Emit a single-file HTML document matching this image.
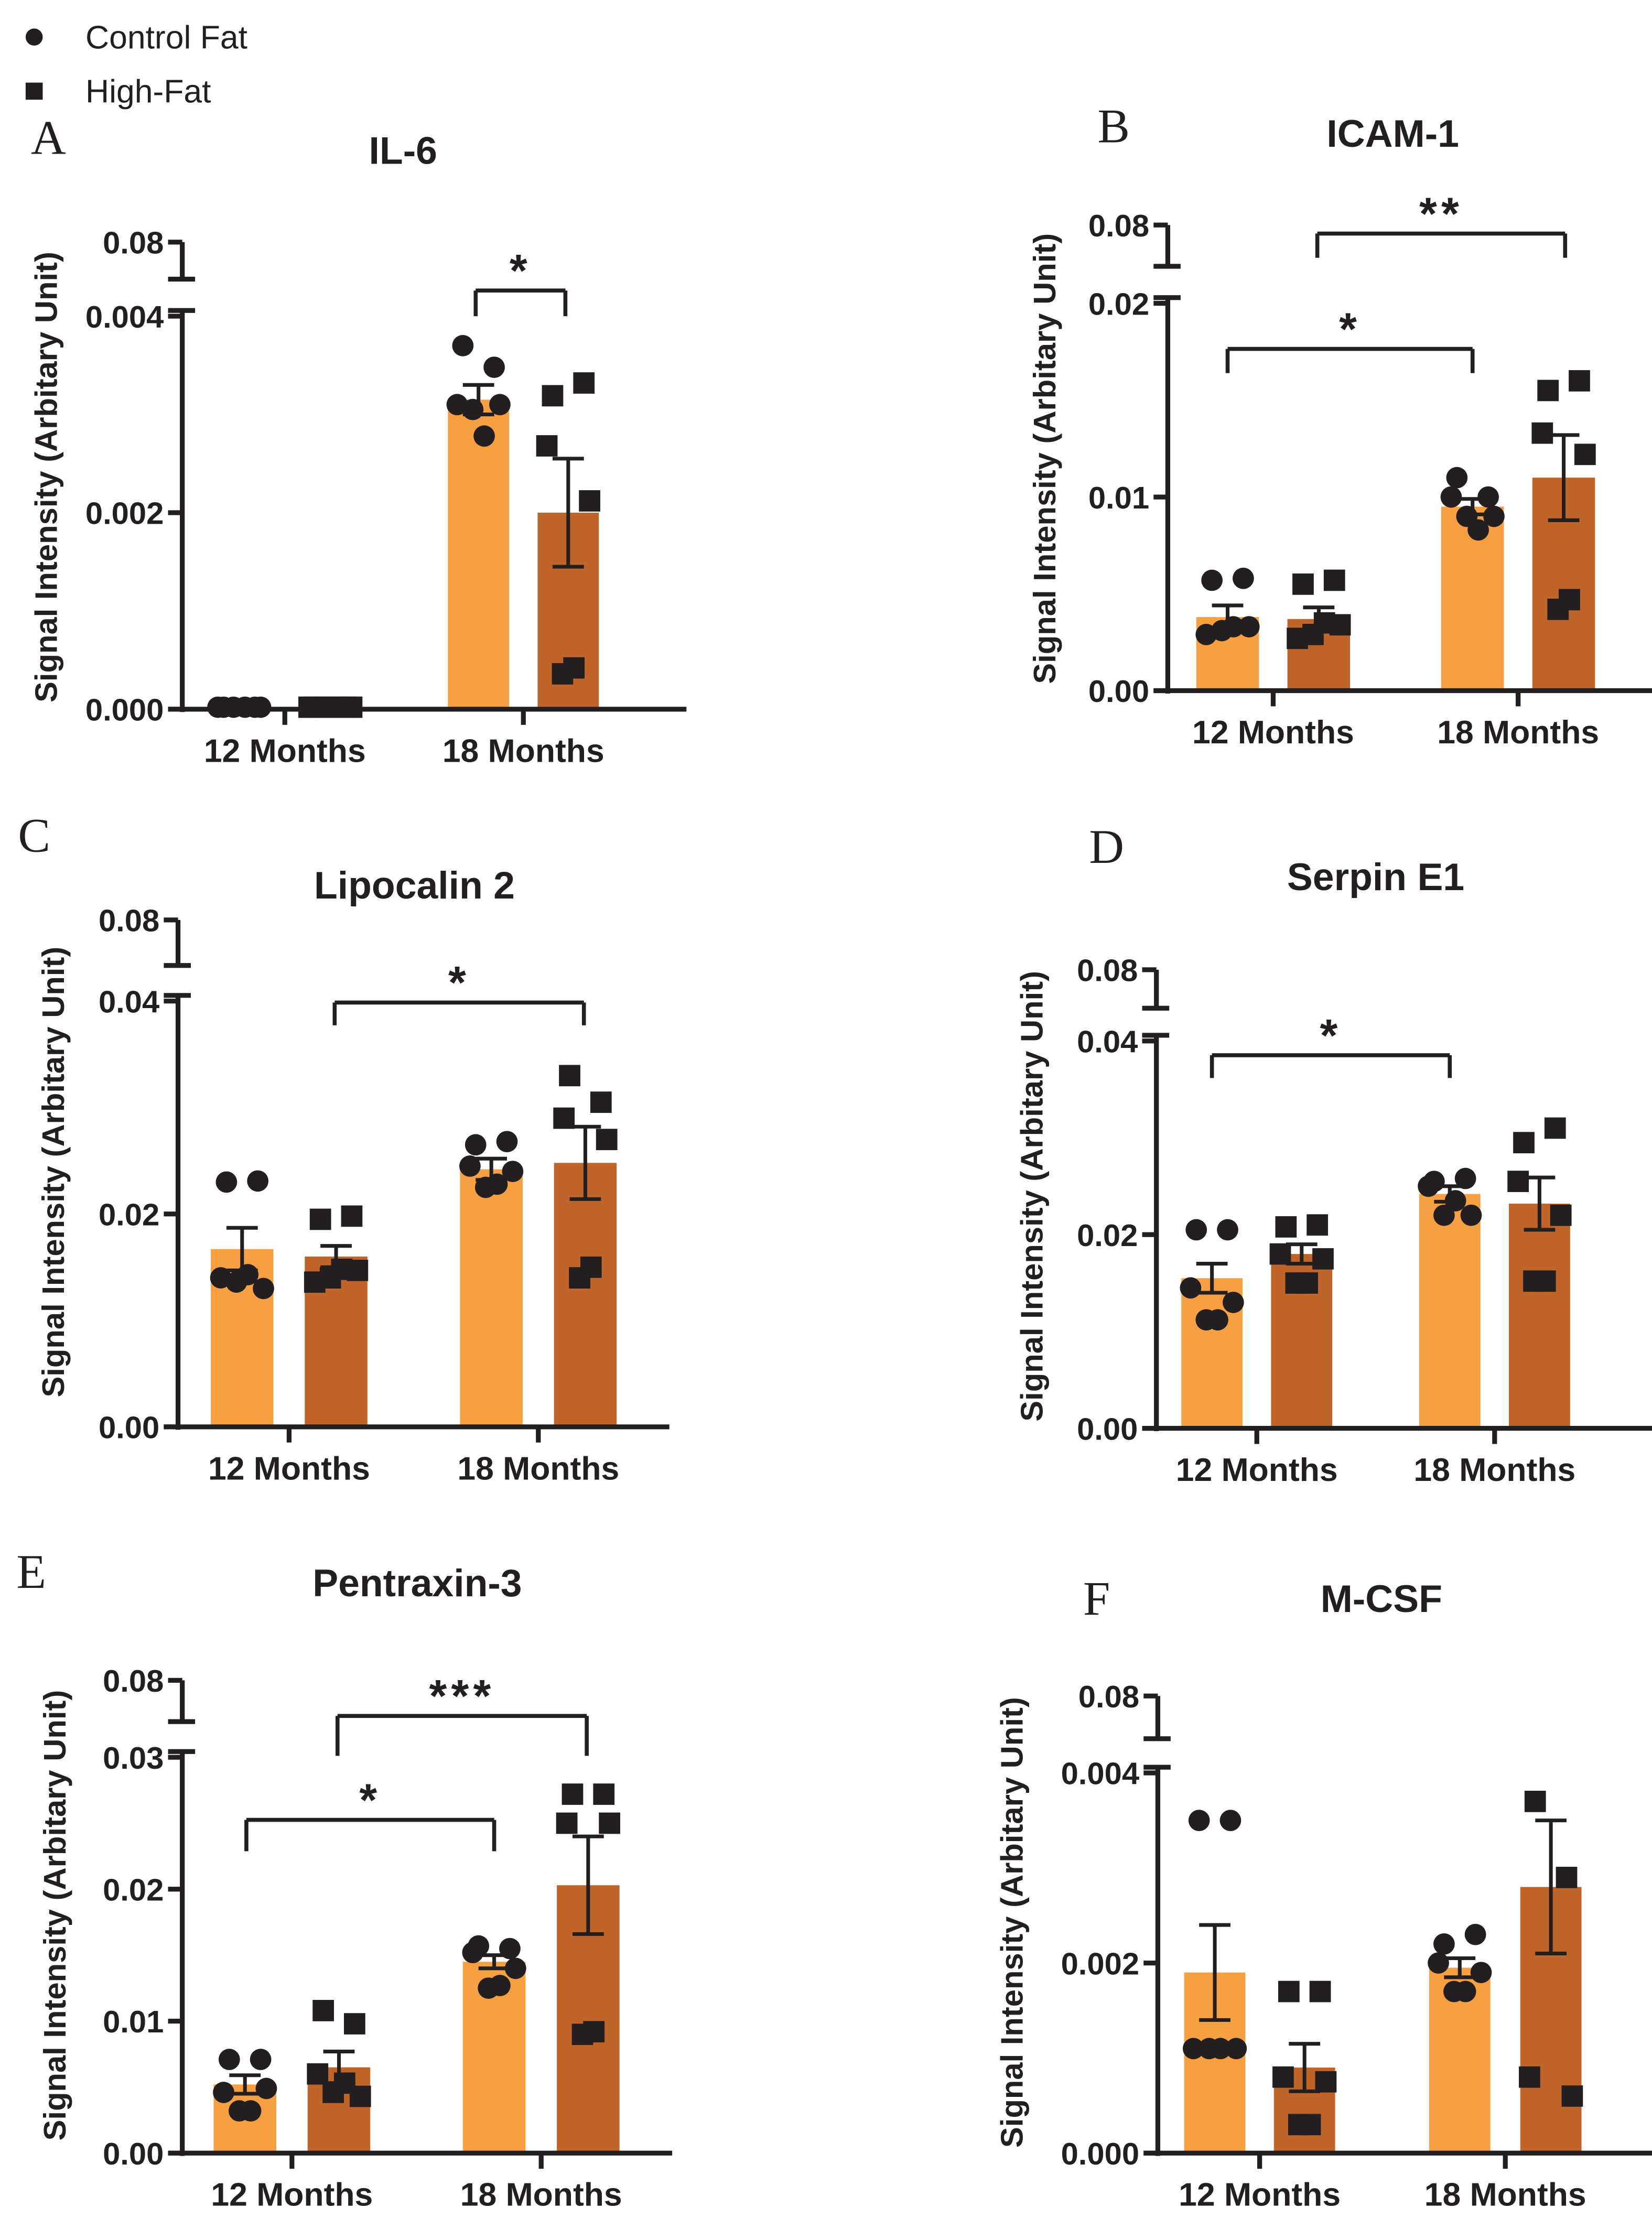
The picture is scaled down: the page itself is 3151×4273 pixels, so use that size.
<!DOCTYPE html>
<html><head><meta charset="utf-8"><title>Signal intensity panels</title>
<style>
html,body{margin:0;padding:0;background:#fff;}
svg{display:block;}
text{fill:#231f20;}
</style></head>
<body>
<svg id="fig" width="3151" height="4273" viewBox="0 0 1160 1573" xmlns="http://www.w3.org/2000/svg" style="font-family:'Liberation Sans',Arial,sans-serif">
<g>
<circle cx="24" cy="26" r="6" fill="#231f20"/>
<text x="60" y="34" font-size="23" style="font-family:'Liberation Sans',Arial,sans-serif">Control Fat</text>
<rect x="18" y="58" width="12" height="12" fill="#231f20"/>
<text x="60" y="72" font-size="23" style="font-family:'Liberation Sans',Arial,sans-serif">High-Fat</text>
</g>
</svg>
<script>
// ---- data ----
const categories = ["12 Months", "18 Months"];
const groups = ["Control Fat", "High-Fat"];

// A: IL-6
const il6Ticks = ["0.000", "0.002", "0.004"];
const il6TickVals = [0, 0.002, 0.004];
const il6Means = [[0.00002, 0.00002], [0.00315, 0.0020]];
const il6Errs = [[0, 0], [0.00015, 0.00055]];
const il6Pts = [
  [[0.00002,0.00002,0.00002,0.00002,0.00002,0.00002],[0.00002,0.00002,0.00002,0.00002,0.00002,0.00002]],
  [[0.0037,0.00348,0.0031,0.0031,0.00305,0.00278],[0.00319,0.00332,0.00268,0.00212,0.00036,0.00042]]
];
// B: ICAM-1
const icamTicks = ["0.00", "0.01", "0.02"];
const icamTickVals = [0, 0.01, 0.02];
const icamMeans = [[0.0038, 0.0037], [0.0095, 0.0110]];
const icamErrs = [[0.0006, 0.0006], [0.0004, 0.0022]];
const icamPts = [
  [[0.0057,0.0058,0.0029,0.0033,0.0031,0.0033],[0.0055,0.0057,0.0027,0.0034,0.0029,0.0035]],
  [[0.0110,0.0100,0.0100,0.0090,0.0090,0.0083],[0.0155,0.0160,0.0133,0.0122,0.0042,0.0047]]
];
// C: Lipocalin 2
const lcnTicks = ["0.00", "0.02", "0.04"];
const lcnTickVals = [0, 0.02, 0.04];
const lcnMeans = [[0.0167, 0.0160], [0.0242, 0.0248]];
const lcnErrs = [[0.0020, 0.0010], [0.0010, 0.0034]];
const lcnPts = [
  [[0.0230,0.0231,0.0140,0.0130,0.0136,0.0143],[0.0195,0.0198,0.0136,0.0147,0.0140,0.0148]],
  [[0.0265,0.0268,0.0245,0.0240,0.0225,0.0228],[0.0330,0.0305,0.0290,0.0270,0.0140,0.0150]]
];
// D: Serpin E1
const serTicks = ["0.00", "0.02", "0.04"];
const serTickVals = [0, 0.02, 0.04];
const serMeans = [[0.0155, 0.0180], [0.0242, 0.0232]];
const serErrs = [[0.0015, 0.0010], [0.0008, 0.0027]];
const serPts = [
  [[0.0205,0.0205,0.0145,0.0130,0.0112,0.0112],[0.0208,0.0210,0.0180,0.0175,0.0150,0.0150]],
  [[0.0255,0.0258,0.0250,0.0220,0.0220,0.0235],[0.0295,0.0310,0.0255,0.0220,0.0152,0.0152]]
];
// E: Pentraxin-3
const ptxTicks = ["0.00", "0.01", "0.02", "0.03"];
const ptxTickVals = [0, 0.01, 0.02, 0.03];
const ptxMeans = [[0.0052, 0.0065], [0.0145, 0.0203]];
const ptxErrs = [[0.0007, 0.0012], [0.0005, 0.0037]];
const ptxPts = [
  [[0.0071,0.0071,0.0046,0.0049,0.0032,0.0032],[0.0108,0.0098,0.0060,0.0043,0.0046,0.0053]],
  [[0.0157,0.0155,0.0152,0.0140,0.0125,0.0127],[0.0272,0.0272,0.0250,0.0250,0.0090,0.0092]]
];
// F: M-CSF
const mcsfTicks = ["0.000", "0.002", "0.004"];
const mcsfTickVals = [0, 0.002, 0.004];
const mcsfMeans = [[0.0019, 0.0009], [0.00195, 0.0028]];
const mcsfErrs = [[0.0005, 0.00025], [0.0001, 0.0007]];
const mcsfPts = [
  [[0.0035,0.0035,0.0011,0.0011,0.0011,0.0011],[0.0017,0.0017,0.0008,0.00075,0.0003,0.0003]],
  [[0.0022,0.0023,0.0020,0.0019,0.0017,0.0017],[0.0037,0.0029,0.0008,0.0006]]
];

// ---- layout (positions only) ----
const NS = "http://www.w3.org/2000/svg";
const svg = document.getElementById('fig');
const DARK = "#231f20", COLORS = ["#F7A043", "#C0652A"];
const JIT = [-11, 11, -15, 15, -4, 4];
const SANS = "font-family:'Liberation Sans',Arial,sans-serif;";
const SERIF = "font-family:'Liberation Serif','Times New Roman',serif;";

function mk(tag, attrs, parent){
  const e = document.createElementNS(NS, tag);
  for (const k in attrs) e.setAttribute(k, attrs[k]);
  (parent||svg).appendChild(e);
  return e;
}
function line(g,x1,y1,x2,y2,w,name){
  const l = mk('line',{x1:x1,y1:y1,x2:x2,y2:y2,stroke:DARK,'stroke-width':w||3.2},g);
  
  
  return l;
}
function txt(g,x,y,s,size,opts,style){
  const t = mk('text',Object.assign({x:x,y:y,'text-anchor':'middle'},opts||{}),g);
  t.setAttribute('style', (style||SANS) + 'font-size:' + size + 'px;');
  t.textContent = s;
  return t;
}

function panel(P){
  const g = mk('g',{});
  
  
  const ax = P.ax, base = P.base, top = P.top, topVal = P.tickVals[P.tickVals.length-1];
  const yv = v => base - v/topVal*(base-top);
  const bw = P.bw;
  const L = txt(g,P.letter[0],P.letter[1],P.id,34,{},SERIF);
  
  
  const T = txt(g,P.title[0],P.title[1],P.name,27,{'font-weight':'bold'});
  
  
  const yl = txt(g,0,0,P.ylabel,22,{'font-weight':'bold',transform:'translate('+P.ylx+','+P.yly+') rotate(-90)'});
  
  
  categories.forEach((c,ci)=>{
    groups.forEach((gr,gi)=>{
      const cx = P.centers[ci][gi];
      const m = P.means[ci][gi];
      const r = mk('rect',{x:cx-bw/2,y:yv(m),width:bw,height:base-yv(m),fill:COLORS[gi]},g);
      
      
    });
  });
  categories.forEach((c,ci)=>{
    groups.forEach((gr,gi)=>{
      const cx = P.centers[ci][gi];
      P.pts[ci][gi].forEach((v,k)=>{
        const px = cx + JIT[k%6]*(P.jit||1), py = yv(v);
        let e;
        if (gi===0) e = mk('circle',{cx:px,cy:py,r:7.5,fill:DARK},g);
        else e = mk('rect',{x:px-7.5,y:py-7.5,width:15,height:15,fill:DARK},g);
        
        
      });
    });
  });
  categories.forEach((c,ci)=>{
    groups.forEach((gr,gi)=>{
      const cx = P.centers[ci][gi];
      const m = P.means[ci][gi], er = P.errs[ci][gi];
      if (er<=0) return;
      line(g,cx,yv(m-er),cx,yv(m+er),2.6,'error-bar');
      line(g,cx-11,yv(m+er),cx+11,yv(m+er),2.6,'error-cap');
      line(g,cx-11,yv(m-er),cx+11,yv(m-er),2.6,'error-cap');
    });
  });
  line(g,ax,base+2,ax,top-4,3.4,'y-axis');
  line(g,ax-10,top-4,ax+9,top-4,3.4,'axis-break-mark');
  line(g,ax,P.brk,ax,P.top08,3.4,'y-axis-upper');
  line(g,ax-10,P.brk,ax+9,P.brk,3.4,'axis-break-mark');
  line(g,ax-10,P.top08,ax,P.top08,3.4,'y-tick');
  const t8 = txt(g,ax-13,P.top08+8,'0.08',22,{'font-weight':'bold','text-anchor':'end'});
  
  
  P.tickVals.forEach((v,i)=>{
    line(g,ax-10,yv(v),ax,yv(v),3.4,'y-tick');
    const tl = txt(g,ax-13,yv(v)+8,P.ticks[i],22,{'font-weight':'bold','text-anchor':'end'});
    
    
  });
  line(g,ax-10,base,P.xend,base,3.4,'x-axis');
  categories.forEach((c,ci)=>{
    const tx = (P.centers[ci][0]+P.centers[ci][1])/2;
    line(g,tx,base,tx,base+11,3.4,'x-tick');
    const cl = txt(g,tx,base+37,c,23,{'font-weight':'bold'});
    
    
  });
  (P.sig||[]).forEach(s=>{
    line(g,s.x1,s.y+s.h,s.x1,s.y,2.8,'significance-bracket');
    line(g,s.x1,s.y,s.x2,s.y,2.8,'significance-bracket');
    line(g,s.x2,s.y,s.x2,s.y+s.h,2.8,'significance-bracket');
    const st = txt(g,(s.x1+s.x2)/2,s.y-3,s.label,32,{'font-weight':'bold','letter-spacing':'3'});
    
    
  });
}

const YL = "Signal Intensity (Arbitary Unit)";
const YL2 = "Signal  Intensity (Arbitary Unit)";
panel({id:'A',name:'IL-6',letter:[34,108],title:[283,115],ylabel:YL,ylx:40,yly:335,
  ax:128,base:498,top:222,top08:170,brk:196,xend:482,bw:43,
  centers:[[168,232],[336,399]],ticks:il6Ticks,tickVals:il6TickVals,means:il6Means,errs:il6Errs,pts:il6Pts,
  sig:[{x1:334,x2:397,y:204,h:18,label:'*'}]});
panel({id:'B',name:'ICAM-1',letter:[782,100],title:[978,103],ylabel:YL,ylx:741,yly:322,
  ax:820,base:485,top:213,top08:158,brk:187,xend:1172,bw:44,
  centers:[[862,926],[1034,1098]],ticks:icamTicks,tickVals:icamTickVals,means:icamMeans,errs:icamErrs,pts:icamPts,
  sig:[{x1:862,x2:1034,y:245,h:17,label:'*'},{x1:925,x2:1099,y:164,h:17,label:'**'}]});
panel({id:'C',name:'Lipocalin 2',letter:[24,598],title:[291,631],ylabel:YL2,ylx:45,yly:823,
  ax:125,base:1002,top:703,top08:646,brk:678,xend:470,bw:44,
  centers:[[170,236],[345,411]],ticks:lcnTicks,tickVals:lcnTickVals,means:lcnMeans,errs:lcnErrs,pts:lcnPts,
  sig:[{x1:235,x2:410,y:704,h:16,label:'*'}]});
panel({id:'D',name:'Serpin E1',letter:[777,606],title:[966,625],ylabel:YL2,ylx:732,yly:840,
  ax:812,base:1003,top:731,top08:681,brk:708,xend:1163,bw:43,
  centers:[[851,914],[1018,1081]],ticks:serTicks,tickVals:serTickVals,means:serMeans,errs:serErrs,pts:serPts,
  sig:[{x1:851,x2:1018,y:741,h:16,label:'*'}]});
panel({id:'E',name:'Pentraxin-3',letter:[22,1115],title:[293,1121],ylabel:YL2,ylx:46,yly:1345,
  ax:128,base:1512,top:1234,top08:1180,brk:1209,xend:472,bw:44,
  centers:[[172,238],[347,413]],ticks:ptxTicks,tickVals:ptxTickVals,means:ptxMeans,errs:ptxErrs,pts:ptxPts,
  sig:[{x1:173,x2:347,y:1278,h:22,label:'*'},{x1:237,x2:412,y:1205,h:28,label:'***'}]});
panel({id:'F',name:'M-CSF',letter:[770,1134],title:[970,1132],ylabel:YL2,ylx:718,yly:1350,
  ax:813,base:1512,top:1245,top08:1191,brk:1221,xend:1163,bw:43,
  centers:[[853,916],[1025,1089]],ticks:mcsfTicks,tickVals:mcsfTickVals,means:mcsfMeans,errs:mcsfErrs,pts:mcsfPts,
  sig:[]});
</script>
</body></html>
